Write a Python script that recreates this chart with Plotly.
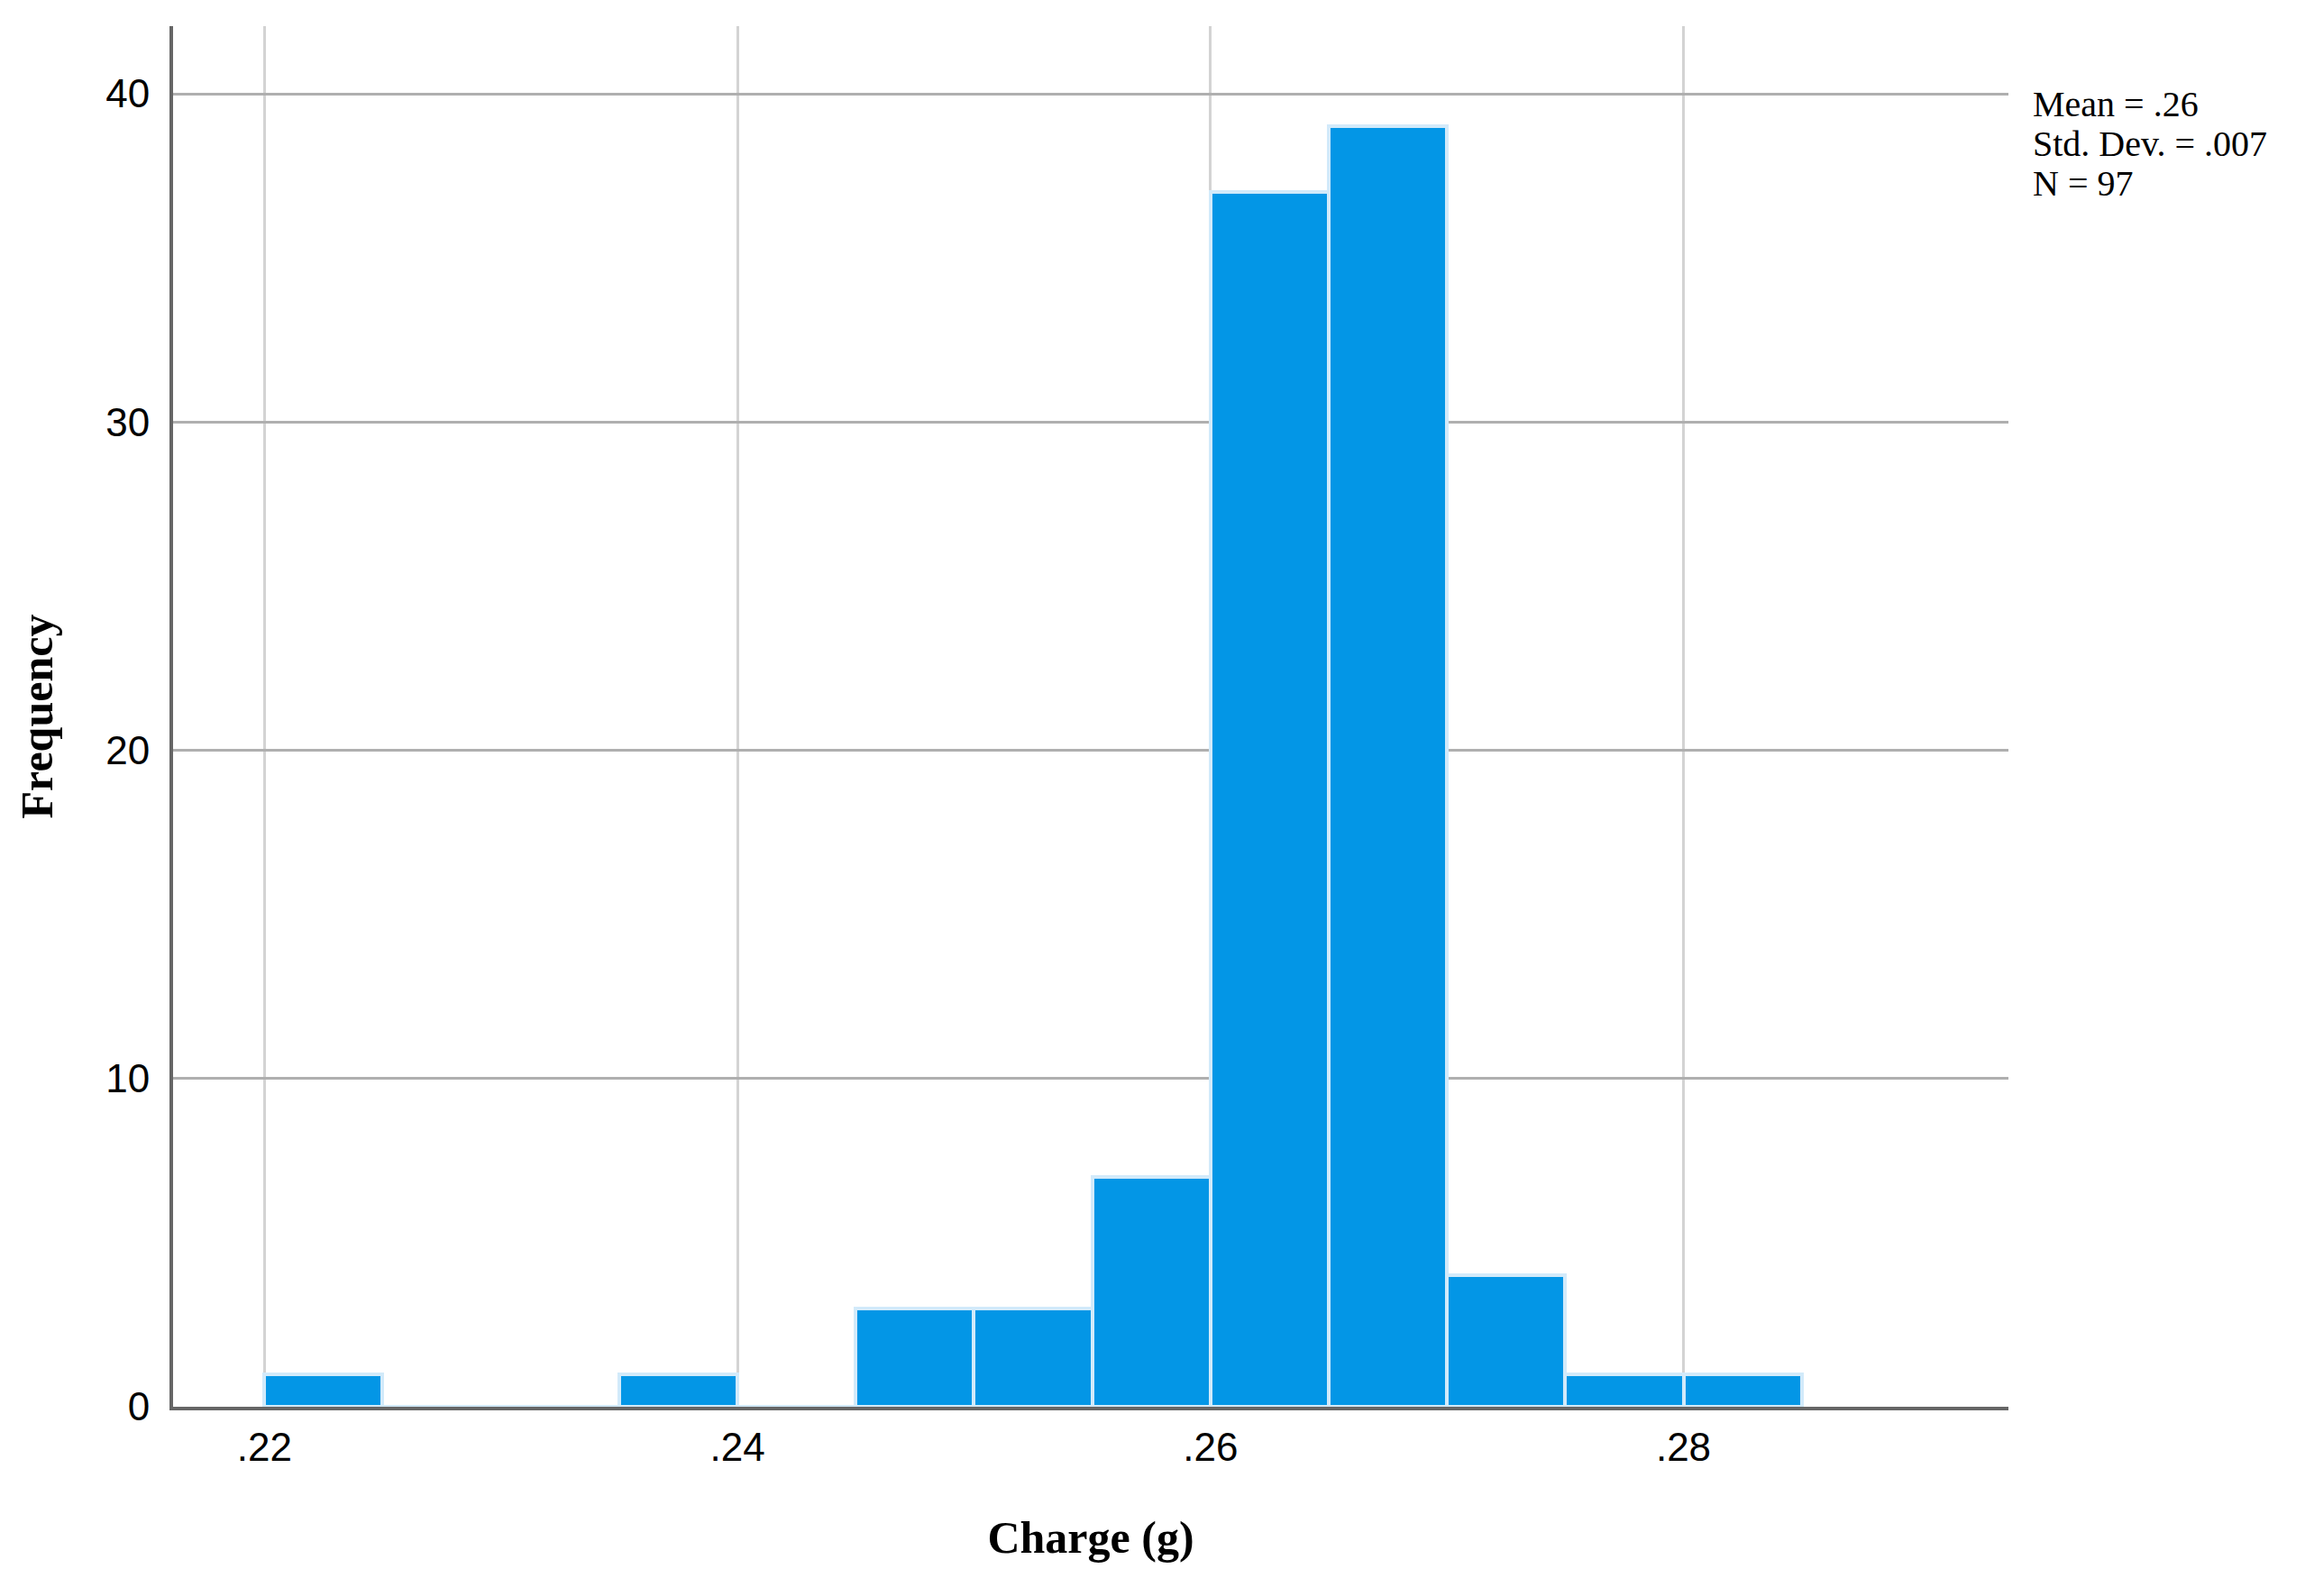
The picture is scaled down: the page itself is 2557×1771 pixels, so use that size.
import plotly.graph_objs as go

# histogram bins (lower edges) and counts
bin_width = 0.005
bin_starts = [0.220, 0.225, 0.230, 0.235, 0.240, 0.245, 0.250, 0.255, 0.260, 0.265, 0.270, 0.275, 0.280]
counts = [1, 0, 0, 1, 0, 3, 3, 7, 37, 39, 4, 1, 1]

x_tickvals = [0.22, 0.24, 0.26, 0.28]
x_ticktext = [".22", ".24", ".26", ".28"]
y_tickvals = [0, 10, 20, 30, 40]

stats_lines = ["Mean = .26", "Std. Dev. = .007", "N = 97"]

bar_color = "#0396E6"
edge_color = "#D2EAFA"

centers = [s + bin_width / 2 for s in bin_starts]

fig = go.Figure()
fig.add_trace(
    go.Bar(
        x=centers,
        y=counts,
        width=[bin_width] * len(counts),
        marker=dict(color=bar_color, line=dict(color=edge_color, width=4)),
        showlegend=False,
    )
)

fig.update_xaxes(
    range=[0.21614, 0.29374],
    tickvals=x_tickvals,
    ticktext=x_ticktext,
    showgrid=True,
    gridcolor="#D3D3D3",
    gridwidth=3,
    showline=True,
    linecolor="#666666",
    linewidth=4,
    ticks="",
    ticklabelstandoff=3,
    tickfont=dict(family="Liberation Sans", size=44, color="#000000"),
    zeroline=False,
    title=dict(text="<b>Charge (g)</b>", font=dict(family="Liberation Serif", size=50, color="#000000"), standoff=60),
)

fig.update_yaxes(
    range=[0, 42.06],
    tickvals=y_tickvals,
    showgrid=True,
    gridcolor="#AFAFAF",
    gridwidth=3,
    showline=True,
    linecolor="#666666",
    linewidth=4,
    ticks="",
    ticklabelstandoff=13,
    tickfont=dict(family="Liberation Sans", size=44, color="#000000"),
    zeroline=False,
    title=dict(text="<b>Frequency</b>", font=dict(family="Liberation Serif", size=50, color="#000000"), standoff=44),
)

# stats box to the right of the plot, one annotation per line
for i, line in enumerate(stats_lines):
    fig.add_annotation(
        text=line,
        xref="paper", yref="paper",
        x=(2246 - 184) / 2036, y=1 - (115.5 + i * 44 - 29) / 1532,
        xanchor="left", yanchor="middle",
        showarrow=False,
        borderpad=0,
        font=dict(family="Liberation Serif", size=40, color="#000000"),
    )

# the page adds an 8px body margin, so the plot area is shifted back by it
fig.update_layout(
    width=2557,
    height=1771,
    margin=dict(l=184, r=337, t=21, b=218),
    plot_bgcolor="white",
    paper_bgcolor="white",
    bargap=0,
)

fig.write_html("out.html")
